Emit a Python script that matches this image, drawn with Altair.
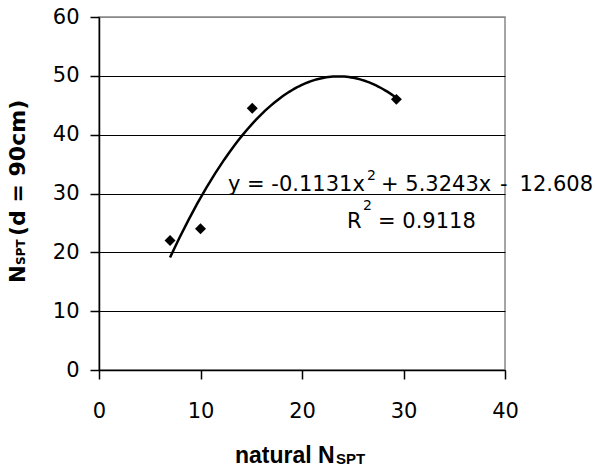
import altair as alt
import pandas as pd

# data
natural_nspt = [7.0, 10.0, 15.1, 29.3]
nspt_90cm = [22.0, 24.0, 44.5, 46.0]
x_ticks = [0, 10, 20, 30, 40]
y_ticks = [0, 10, 20, 30, 40, 50, 60]
eq_main = "y = -0.1131x"
eq_mid = "+ 5.3243x"
eq_minus = "-"
eq_end = "12.608"
r2_lead = "R"
r2_tail = "= 0.9118"
sup = "2"

df = pd.DataFrame({"x": natural_nspt, "y": nspt_90cm})

LBL_FONT = "DejaVu Sans"
TTL_FONT = "Liberation Sans"

xs = alt.Scale(domain=[0, 40], nice=False, zero=False)
ys = alt.Scale(domain=[0, 60], nice=False, zero=False)

xax = alt.Axis(values=x_ticks, grid=False, title=None, tickSize=9, tickWidth=1.5,
               tickColor="black", domainColor="black", domainWidth=1.5,
               labelFont=LBL_FONT, labelFontSize=21, labelColor="black",
               labelPadding=21, labelFlush=False)
yax = alt.Axis(values=y_ticks, grid=True, title=None, tickSize=9, tickWidth=1.5,
               tickColor="black", domainColor="black", domainWidth=1.5,
               gridColor={"condition": {"test": "datum.value === 60", "value": "#888888"},
                          "value": "#000000"},
               gridWidth=1,
               labelFont=LBL_FONT, labelFontSize=21, labelColor="black",
               labelPadding=11)

base = alt.Chart(df)

points = base.mark_point(shape="diamond", filled=True, color="black", size=120, opacity=1).encode(
    x=alt.X("x:Q", scale=xs, axis=xax),
    y=alt.Y("y:Q", scale=ys, axis=yax),
)

trend = base.transform_regression("x", "y", method="poly", order=2).mark_line(
    color="black", strokeWidth=2.5
).encode(
    x=alt.X("x:Q", scale=xs),
    y=alt.Y("y:Q", scale=ys),
)


def txt(s, x, y, size=21, font=LBL_FONT, weight="normal", align="left", angle=0):
    kw = dict(text=s, font=font, fontSize=size, fontWeight=weight, align=align,
              baseline="alphabetic", color="black")
    if angle:
        kw["angle"] = angle
    return alt.Chart(pd.DataFrame({"t": [s]})).mark_text(**kw).encode(
        x=alt.value(x), y=alt.value(y)
    )


ann = [
    txt(eq_main, 129, 174),
    txt(sup, 268, 163, size=14),
    txt(eq_mid, 282, 174),
    txt(eq_minus, 401, 174),
    txt(eq_end, 494, 174, align="right"),
    txt(r2_lead, 248, 211),
    txt(sup, 264, 193, size=14),
    txt(r2_tail, 279, 211),
    # x axis title
    txt("natural N", 136, 446, size=23, font=TTL_FONT, weight="bold"),
    txt("SPT", 237, 447, size=15, font=TTL_FONT, weight="bold"),
    # y axis title (rotated)
    txt("N", -74, 266, size=21, font=LBL_FONT, weight="bold", angle=270),
    txt("SPT", -74, 248, size=12, font=LBL_FONT, weight="bold", angle=270),
    txt("(d = 90cm)", -74, 219, size=22, font=LBL_FONT, weight="bold", angle=270),
]

chart = alt.layer(points, trend, *ann).properties(
    width=406,
    height=353,
    padding={"left": 99, "top": 17, "right": 90, "bottom": 104},
    autosize=alt.AutoSizeParams(type="none"),
    background="white",
).configure_view(stroke="#888888", strokeWidth=1.5)

chart.save("out.html", embed_options={"renderer": "svg", "actions": False})
